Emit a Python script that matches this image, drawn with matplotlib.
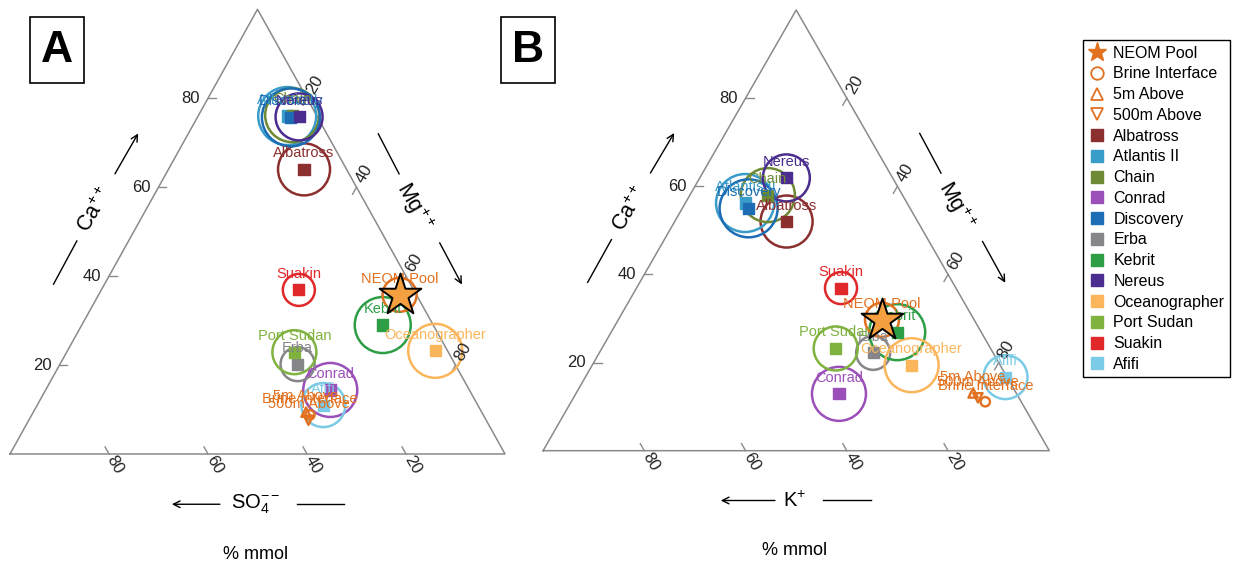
import numpy as np
import matplotlib.pyplot as plt
from matplotlib.lines import Line2D
from matplotlib.patches import Rectangle

plt.rcParams['font.family'] = ['Liberation Sans', 'DejaVu Sans']
plt.rcParams['mathtext.fontset'] = 'custom'
plt.rcParams['mathtext.rm'] = 'Liberation Sans'
plt.rcParams['mathtext.it'] = 'Liberation Sans:italic'
plt.rcParams['mathtext.bf'] = 'Liberation Sans:bold'

# brine pools (% mmol)
sites = ['Albatross', 'Atlantis II', 'Chain', 'Conrad', 'Discovery', 'Erba',
         'Kebrit', 'Nereus', 'Oceanographer', 'Port Sudan', 'Suakin', 'Afifi']
site_col = ['#8c2f2f', '#3a9dc9', '#6f8a35', '#9b4fb8', '#1c6db4', '#86868a',
            '#2e9e46', '#4a2d8f', '#fbb65c', '#80b23f', '#e0282a', '#7ccbe6']
ring_r = [26, 29, 27, 27, 29, 17, 28, 23.5, 27, 22, 16, 22]   # ring radius

# panel A : Ca++ / Mg++ / SO4--
ca_A = [64.0, 76.0, 76.2, 14.4, 75.7, 20.2, 29.0, 75.8, 23.2, 22.9, 36.9, 11.0]
mg_A = [27.4, 18.0, 18.9, 57.5, 18.9, 48.0, 60.8, 20.5, 74.3, 46.0, 39.9, 57.8]
so4_A = [8.6, 6.0, 4.9, 28.1, 5.4, 31.8, 10.2, 3.7, 2.5, 31.1, 23.2, 31.2]
# panel B : Ca++ / Mg++ / K+
ca_B = [52.0, 56.2, 58.0, 12.9, 55.0, 22.2, 26.9, 61.9, 19.4, 23.2, 36.9, 16.7]
mg_B = [22.1, 11.8, 15.4, 52.0, 13.1, 54.1, 56.5, 17.1, 63.1, 46.2, 40.4, 83.0]
k_B = [25.9, 32.0, 26.6, 35.1, 31.9, 23.7, 16.6, 21.0, 17.5, 30.6, 22.7, 0.3]

# NEOM samples
samples = ['NEOM Pool', 'Brine Interface', '5m Above', '500m Above']
smp_ca_A = [35.8, 8.8, 9.4, 7.6]
smp_mg_A = [60.8, 56.2, 55.1, 56.5]
smp_so4_A = [3.4, 35.0, 35.5, 35.9]
smp_ca_B = [29.7, 11.1, 13.1, 12.0]
smp_mg_B = [52.1, 81.8, 78.4, 79.9]
smp_k_B = [18.2, 7.1, 8.5, 8.1]
neom_ring = 17

ticks = [20, 40, 60, 80]
orange = '#e2711f'
star_col = '#f5a040'
grey = '#8a8a8a'


def tern(ca, mg, other):
    ca = np.asarray(ca, float); mg = np.asarray(mg, float); other = np.asarray(other, float)
    tot = ca + mg + other
    ca = ca / tot; mg = mg / tot
    return mg + ca / 2, ca


def px2pt(r):
    return (2 * r * 0.72) ** 2


def frame(ax, bottom_lab, arr_x, line_x):
    ax.set_xlim(0, 1); ax.set_ylim(0, 1); ax.axis('off')
    ax.plot([0, 0.5, 1, 0], [0, 1, 0, 0], color=grey, lw=1.1, clip_on=False, zorder=1)
    d = 0.016; k = 0.03; kb = 0.021
    for v in ticks:
        f = v / 100
        # left axis Ca
        ax.plot([f / 2, f / 2 + d], [f, f], color=grey, lw=1, clip_on=False)
        ax.text(f / 2 - 0.016, f, str(v), ha='right', va='center', fontsize=12, color='#222222')
        # right axis Mg
        x0, y0 = f + (1 - f) / 2, 1 - f
        ax.plot([x0, x0 - d / 2], [y0, y0 - d], color=grey, lw=1, clip_on=False)
        ax.text(x0 + k / 2, y0 + k, str(v), ha='center', va='center', rotation=60,
                fontsize=12, color='#222222')
        # bottom axis
        x0 = 1 - f
        ax.plot([x0, x0 - d / 2], [0, d], color=grey, lw=1, clip_on=False)
        ax.text(x0 + kb / 2 + 0.002, -kb - 0.004, str(v), ha='center', va='center', rotation=-60,
                fontsize=12, color='#222222')
    ar = dict(arrowstyle='->', color='black', lw=1, shrinkA=0, shrinkB=0, mutation_scale=12)
    # Ca
    ax.text(0.173, 0.548, r'Ca$^{++}$', rotation=60, ha='center', va='center', fontsize=15.5)
    ax.plot([0.088, 0.135], [0.382, 0.479], color='black', lw=1, clip_on=False)
    ax.annotate('', xy=(0.259, 0.721), xytext=(0.212, 0.63), arrowprops=ar, annotation_clip=False)
    # Mg
    ax.text(0.816, 0.556, r'Mg$^{++}$', rotation=-60, ha='center', va='center', fontsize=15.5)
    ax.plot([0.744, 0.786], [0.72, 0.63], color='black', lw=1, clip_on=False)
    ax.annotate('', xy=(0.913, 0.381), xytext=(0.868, 0.475), arrowprops=ar, annotation_clip=False)
    # bottom
    ax.text(0.496, -0.113, bottom_lab, ha='center', va='center', fontsize=14.5)
    ax.annotate('', xy=(arr_x[0], -0.113), xytext=(arr_x[1], -0.113), arrowprops=ar,
                annotation_clip=False)
    ax.plot(line_x, [-0.113, -0.113], color='black', lw=1, clip_on=False)
    ax.text(0.496, -0.226, '% mmol', ha='center', va='center', fontsize=13)


def draw(ax, ca, mg, other, sca, smg, sother):
    x, y = tern(ca, mg, other)
    sx, sy = tern(sca, smg, sother)
    ax.scatter(x, y, s=[px2pt(r) for r in ring_r], facecolors='none', edgecolors=site_col,
               linewidths=1.8, zorder=2, clip_on=False)
    ax.scatter(sx[:1], sy[:1], s=px2pt(neom_ring), facecolors='none', edgecolors=orange,
               linewidths=1.8, zorder=2)
    ax.scatter(x, y, s=64, marker='s', c=site_col, zorder=3, clip_on=False)
    for i, name in enumerate(sites):
        ax.annotate(name, (x[i], y[i]), xytext=(0, 11.5), textcoords='offset points',
                    ha='center', va='center', fontsize=10.5, color=site_col[i], zorder=4,
                    annotation_clip=False)
    mk = ['*', 'o', '^', 'v']
    for i in range(1, 4):
        ax.scatter(sx[i], sy[i], s=45, marker=mk[i], facecolors='none', edgecolors=orange,
                   linewidths=1.7, zorder=4)
    for i in range(4):
        ax.annotate(samples[i], (sx[i], sy[i]), xytext=(0, 11.5), textcoords='offset points',
                    ha='center', va='center', fontsize=10.5, color=orange, zorder=4)
    ax.scatter(sx[0], sy[0], s=1000, marker='*', facecolors=star_col, edgecolors='black',
               linewidths=1.4, zorder=6)


fig = plt.figure(figsize=(12.33, 5.61), dpi=100)
W, H = 1233, 561
axA = fig.add_axes([10 / W, (H - 454) / H, 495 / W, 444.7 / H])
axB = fig.add_axes([543.1 / W, (H - 450.7) / H, 506.2 / W, 440.7 / H])

frame(axA, r'SO$_4^{--}$', (0.327, 0.424), (0.579, 0.675))
frame(axB, r'K$^{+}$', (0.351, 0.458), (0.552, 0.647))
draw(axA, ca_A, mg_A, so4_A, smp_ca_A, smp_mg_A, smp_so4_A)
draw(axB, ca_B, mg_B, k_B, smp_ca_B, smp_mg_B, smp_k_B)

# panel letters
for lab, x0 in [('A', 30.3), ('B', 501)]:
    fig.add_artist(Rectangle((x0 / W, 1 - 83.3 / H), 54 / W, 66 / H, transform=fig.transFigure,
                             facecolor='white', edgecolor='black', lw=1.2))
    fig.text((x0 + 27) / W, 1 - 50.3 / H, lab, ha='center', va='center', fontsize=32,
             fontweight='bold')

handles = [Line2D([], [], ls='none', marker='*', color=orange, markersize=14),
           Line2D([], [], ls='none', marker='o', mfc='none', mec=orange, markersize=9, mew=1.3),
           Line2D([], [], ls='none', marker='^', mfc='none', mec=orange, markersize=9, mew=1.3),
           Line2D([], [], ls='none', marker='v', mfc='none', mec=orange, markersize=9, mew=1.3)]
handles += [Line2D([], [], ls='none', marker='s', color=c, markersize=9) for c in site_col]
leg = fig.legend(handles, samples + sites, loc='upper left', bbox_to_anchor=(1083 / W, 1 - 40 / H),
                 frameon=True, fancybox=False, edgecolor='black', framealpha=1, fontsize=11.5,
                 handlelength=1.0, handletextpad=0.55, labelspacing=0.36, borderpad=0.35,
                 borderaxespad=0)
leg.get_frame().set_linewidth(1)

plt.savefig('out.png', dpi=100)
